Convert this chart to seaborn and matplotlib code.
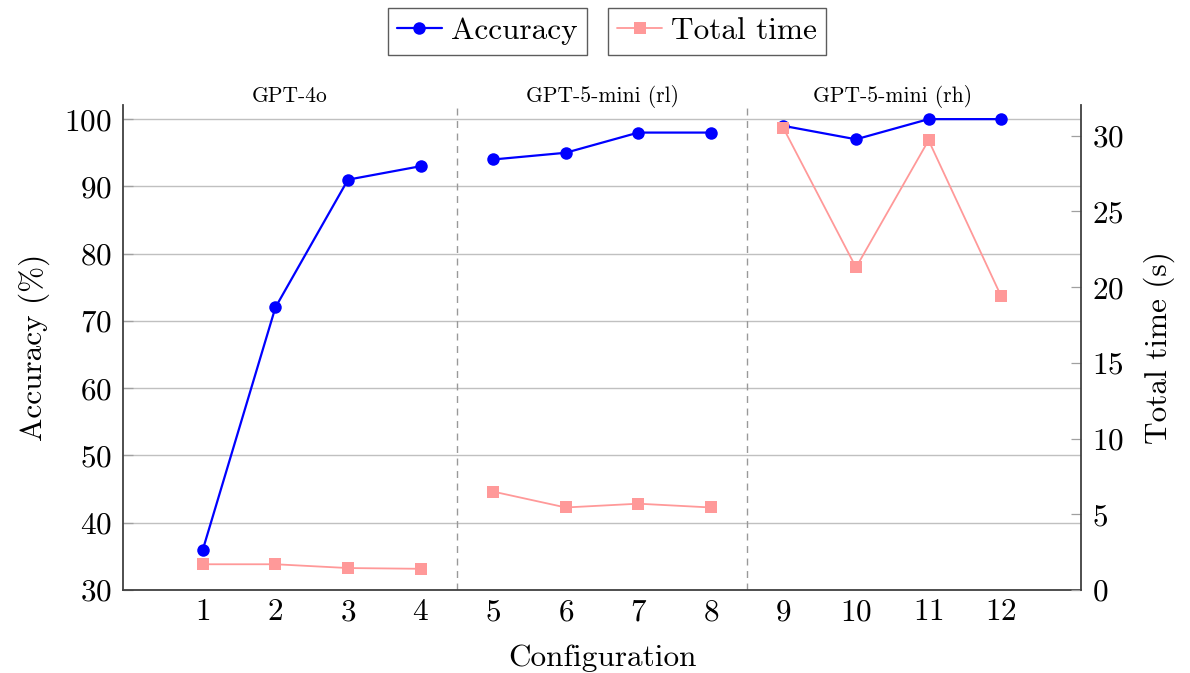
import numpy as np
import matplotlib
matplotlib.use("Agg")
import matplotlib.pyplot as plt
import seaborn as sns
import pandas as pd

# values
config = [1, 2, 3, 4, 5, 6, 7, 8, 9, 10, 11, 12]
accuracy = [36, 72, 91, 93, 94, 95, 98, 98, 99, 97, 100, 100]
total_time = [1.7, 1.7, 1.45, 1.4, 6.5, 5.45, 5.7, 5.45, 30.5, 21.3, 29.7, 19.4]
group = ["GPT-4o"] * 4 + ["GPT-5-mini (rl)"] * 4 + ["GPT-5-mini (rh)"] * 4
group_names = ["GPT-4o", "GPT-5-mini (rl)", "GPT-5-mini (rh)"]
group_pos = [2.2, 6.5, 10.5]
group_sep = [4.5, 8.5]

df = pd.DataFrame({"config": config, "accuracy": accuracy,
                   "time": total_time, "group": group})

sns.set_style("white")
plt.rcParams["font.family"] = ["cmr10", "DejaVu Serif"]
plt.rcParams["axes.formatter.use_mathtext"] = True
plt.rcParams["mathtext.fontset"] = "cm"
plt.rcParams["text.color"] = "black"
plt.rcParams["axes.labelcolor"] = "black"

blue = "#0000ff"
pink = "#ff9999"
spine_c = "#404040"
tick_c = "#a0a0a0"
fs = 22.5

fig, ax = plt.subplots(figsize=(11.9, 6.73), dpi=100)
fig.subplots_adjust(left=123/1190, right=1081/1190, bottom=1-590/673, top=1-105/673)
ax2 = ax.twinx()

# one line per model group, so lines break at the separators
sns.lineplot(data=df, x="config", y="accuracy", units="group", estimator=None,
             ax=ax, color=blue, marker="o", markersize=9, markeredgewidth=0,
             linewidth=1.6, legend=False, zorder=3)
sns.lineplot(data=df, x="config", y="time", units="group", estimator=None,
             ax=ax2, color=pink, marker="s", markersize=9, markeredgewidth=0,
             linewidth=1.3, legend=False, zorder=3)

ax.set_xlim(-0.1, 13.1)
ax.set_ylim(30, 102.1)
ax2.set_ylim(0, 32.03)
ax.set_xticks(config)
ax.set_yticks(range(30, 101, 10))
ax2.set_yticks(range(0, 31, 5))

ax.yaxis.grid(True, color="#c0c0c0", linewidth=1.0)
ax.set_axisbelow(True)

for s in group_sep:
    ax.axvline(s, color="#999999", linestyle=(0, (5, 4)), linewidth=1.0, zorder=1)

for a in (ax, ax2):
    a.spines["top"].set_visible(False)
    for side in ("left", "right", "bottom"):
        a.spines[side].set_color(spine_c)
        a.spines[side].set_linewidth(1.3)
ax.spines["right"].set_visible(False)
ax2.spines["left"].set_visible(False)
ax2.spines["bottom"].set_visible(False)

ax.tick_params(axis="both", direction="in", length=7.5, width=0.9, color=tick_c,
               labelcolor="black", labelsize=fs, pad=8)
ax.tick_params(axis="x", pad=6)
ax2.tick_params(axis="y", direction="in", length=7.5, width=0.9, color=tick_c,
                labelcolor="black", labelsize=fs, pad=8)

ax.set_xlabel("Configuration", fontsize=fs, labelpad=13)
ax.set_ylabel("Accuracy (%)", fontsize=fs, labelpad=10)
ax2.set_ylabel("Total time (s)", fontsize=fs, labelpad=14)

for name, pos in zip(group_names, group_pos):
    ax.text(pos, 1.006, name, transform=ax.get_xaxis_transform(), ha="center",
            va="baseline", fontsize=15.5)

h1 = ax.lines[0]
h2 = ax2.lines[0]
leg_kw = dict(fontsize=fs, frameon=True, fancybox=False, handlelength=1.42,
              handletextpad=0.3, borderpad=0.3, borderaxespad=0)
leg1 = fig.legend([h1], ["Accuracy"], loc="upper right",
                  bbox_to_anchor=(587/1190, 1-8/673), **leg_kw)
leg2 = fig.legend([h2], ["Total time"], loc="upper left",
                  bbox_to_anchor=(608/1190, 1-8/673), **leg_kw)
for lg in (leg1, leg2):
    lg.get_frame().set_edgecolor("#333333")
    lg.get_frame().set_linewidth(1.0)

fig.savefig("out.png", dpi=100)
